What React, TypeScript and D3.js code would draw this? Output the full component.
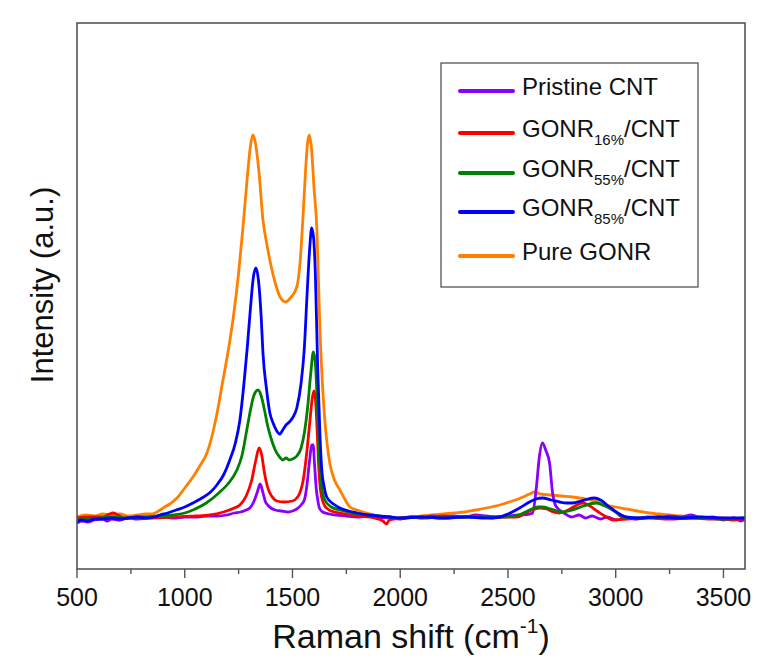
import React from "react";
import * as d3 from "d3";

type Pt = [number, number];

const pristineCNT: Pt[] = [
  [500, -5], [520, -3], [550, -4], [580, -2], [620, -1], [640, -3], [660, -1], [700, -2], [740, 0], [780, -1], [830, 0], [900, 1], [950, 0], [1000, 1], [1050, 1], [1100, 2], [1150, 2], [1195, 3], [1230, 5], [1260, 6], [1285, 8], [1302, 10], [1320, 16], [1337, 26], [1350, 34], [1362, 26], [1375, 16], [1385, 13], [1400, 10], [1420, 8], [1450, 7], [1480, 6], [1500, 7], [1520, 9], [1540, 13], [1555, 18], [1566, 31], [1578, 55], [1590, 73], [1596, 73], [1602, 55], [1610, 30], [1618, 17], [1625, 10], [1640, 6], [1670, 4], [1700, 3], [1750, 2], [1800, 1], [1850, 2], [1900, 0], [1950, 1], [2000, -1], [2050, 1], [2100, 0], [2150, 2], [2200, 1], [2250, 2], [2300, 1], [2350, 3], [2400, 2], [2450, 1], [2500, 2], [2550, 3], [2600, 4], [2614, 5], [2632, 31], [2645, 60], [2660, 75], [2675, 68], [2693, 55], [2707, 25], [2718, 14], [2730, 10], [2760, 5], [2795, 1], [2830, 3], [2860, 0], [2890, 2], [2930, -1], [2960, 1], [3003, -2], [3050, 0], [3100, -1], [3150, 1], [3200, 0], [3250, 2], [3300, 1], [3350, 3], [3400, 0], [3450, 1], [3500, -2], [3550, 0], [3580, -3], [3600, -1],
];

const gonr16: Pt[] = [
  [500, 0], [560, 1], [620, 1], [650, 4], [667, 5], [690, 3], [720, 0], [780, 1], [850, 0], [950, 1], [1050, 2], [1117, 3], [1180, 6], [1230, 10], [1256, 13], [1285, 22], [1311, 38], [1330, 58], [1345, 70], [1358, 62], [1370, 45], [1383, 32], [1395, 25], [1410, 20], [1427, 17], [1460, 16], [1500, 17], [1520, 20], [1534, 25], [1550, 38], [1566, 65], [1580, 95], [1592, 120], [1600, 127], [1608, 115], [1615, 85], [1622, 50], [1630, 28], [1640, 17], [1650, 12], [1680, 7], [1720, 5], [1800, 2], [1880, 0], [1920, -3], [1935, -6], [1950, -2], [2000, 0], [2060, 1], [2120, 0], [2200, 2], [2280, 1], [2350, 2], [2420, 0], [2480, 1], [2539, 1], [2600, 7], [2646, 10], [2680, 9], [2710, 6], [2739, 5], [2780, 8], [2820, 13], [2846, 15], [2880, 12], [2920, 6], [2957, 1], [2985, -2], [3050, -1], [3150, 0], [3250, -1], [3350, 0], [3450, -1], [3500, -1], [3550, -2], [3600, 0],
];

const gonr55: Pt[] = [
  [500, -2], [540, -1], [600, 0], [660, 1], [720, 0], [800, 1], [880, 2], [950, 3], [1000, 5], [1038, 8], [1100, 15], [1163, 26], [1200, 34], [1242, 48], [1265, 62], [1288, 88], [1305, 108], [1320, 122], [1340, 128], [1355, 122], [1370, 108], [1385, 92], [1400, 80], [1420, 68], [1440, 61], [1455, 58], [1470, 60], [1485, 58], [1500, 59], [1520, 62], [1540, 70], [1555, 85], [1570, 110], [1585, 145], [1597, 166], [1606, 155], [1615, 115], [1625, 60], [1636, 30], [1650, 18], [1680, 11], [1720, 8], [1780, 5], [1850, 3], [1950, 1], [2000, 0], [2100, 1], [2200, 0], [2300, 1], [2400, 1], [2480, 1], [2550, 3], [2600, 8], [2640, 11], [2660, 11], [2700, 9], [2753, 6], [2800, 8], [2850, 12], [2910, 15], [2950, 12], [3000, 6], [3031, 1], [3100, 0], [3200, 1], [3300, 0], [3400, 0], [3500, -1], [3600, 0],
];

const gonr85: Pt[] = [
  [500, -4], [520, -2], [550, -3], [580, -1], [620, -1], [660, 0], [700, -1], [740, 0], [780, 1], [820, 0], [860, 1], [885, 3], [920, 5], [960, 8], [1000, 11], [1038, 15], [1080, 20], [1120, 26], [1149, 33], [1180, 43], [1209, 58], [1235, 75], [1256, 98], [1275, 135], [1290, 170], [1305, 210], [1318, 240], [1330, 250], [1342, 238], [1355, 200], [1363, 165], [1380, 128], [1395, 105], [1410, 95], [1427, 87], [1441, 84], [1455, 88], [1470, 93], [1485, 96], [1500, 100], [1520, 110], [1540, 135], [1555, 170], [1568, 225], [1580, 270], [1589, 290], [1598, 280], [1606, 245], [1617, 150], [1628, 80], [1636, 48], [1648, 30], [1659, 21], [1690, 14], [1720, 10], [1760, 7], [1800, 5], [1850, 3], [1900, 2], [1950, 1], [2000, 0], [2100, 1], [2200, 0], [2300, 1], [2400, 0], [2461, 1], [2500, 4], [2554, 10], [2600, 16], [2630, 19], [2660, 20], [2700, 18], [2740, 16], [2771, 15], [2800, 15], [2840, 17], [2870, 19], [2901, 20], [2930, 18], [2971, 11], [3010, 5], [3050, 1], [3100, 0], [3200, 1], [3300, 0], [3400, 1], [3500, 0], [3600, 0],
];

const pureGONR: Pt[] = [
  [500, 1], [540, 3], [580, 2], [620, 4], [660, 3], [700, 4], [740, 2], [780, 3], [820, 4], [850, 4], [871, 6], [900, 10], [930, 14], [964, 20], [1000, 30], [1038, 41], [1070, 52], [1103, 65], [1130, 85], [1150, 105], [1175, 135], [1200, 165], [1225, 200], [1250, 245], [1270, 290], [1290, 340], [1305, 372], [1316, 383], [1328, 375], [1345, 345], [1363, 298], [1380, 275], [1395, 258], [1420, 235], [1445, 220], [1469, 216], [1490, 220], [1520, 231], [1535, 255], [1548, 298], [1560, 345], [1570, 375], [1578, 383], [1588, 370], [1600, 330], [1613, 290], [1627, 191], [1640, 130], [1650, 98], [1673, 55], [1695, 38], [1720, 28], [1745, 18], [1766, 11], [1800, 8], [1844, 5], [1880, 3], [1940, 0], [2000, -1], [2050, 1], [2100, 2], [2150, 3], [2200, 4], [2250, 5], [2300, 6], [2350, 8], [2400, 10], [2461, 13], [2520, 17], [2570, 21], [2600, 24], [2623, 26], [2650, 24], [2700, 23], [2750, 22], [2800, 21], [2832, 20], [2880, 18], [2920, 16], [2957, 13], [3000, 11], [3050, 9], [3100, 7], [3156, 5], [3200, 4], [3250, 3], [3300, 2], [3388, 1], [3450, 0], [3500, 0], [3550, -1], [3600, 0],
];

const seriesNames = ["Pristine CNT", "GONR16%/CNT", "GONR55%/CNT", "GONR85%/CNT", "Pure GONR"];
const seriesData = [pristineCNT, gonr16, gonr55, gonr85, pureGONR];
const seriesColors = ["#8a00ff", "#ff0000", "#008000", "#0000ff", "#ff8000"];
const drawOrder = [4, 0, 1, 2, 3];

const majorTicks = [500, 1000, 1500, 2000, 2500, 3000, 3500];
const minorTicks = [750, 1250, 1750, 2250, 2750, 3250];

const FONT = "'Liberation Sans', Arial, Helvetica, sans-serif";

export default function App() {
  const W = 760;
  const H = 664;
  const left = 77, right = 745, top = 23, bottom = 569;
  const x = d3.scaleLinear().domain([500, 3600]).range([left, right]);
  const y = d3.scaleLinear().domain([-51, 495]).range([bottom, top]);
  const line = d3
    .line<Pt>()
    .x((d) => x(d[0]))
    .y((d) => y(d[1]))
    .curve(d3.curveMonotoneX);

  const legendX = 441, legendY = 63, legendW = 257, legendH = 224;
  const rowY = [91, 133, 173, 212, 256];

  const renderLabel = (name: string) => {
    const m = name.match(/^GONR(\d+%)\/CNT$/);
    if (m) {
      return (
        <>
          <tspan>GONR</tspan>
          <tspan fontSize={15} dy={8}>{m[1]}</tspan>
          <tspan dy={-8}>/CNT</tspan>
        </>
      );
    }
    return name;
  };

  return (
    <svg width={W} height={H} style={{ position: "absolute", left: 0, top: 0, background: "#fff" }}>
      <rect x={0} y={0} width={W} height={H} fill="#fff" />
      <defs>
        <clipPath id="plotclip">
          <rect x={left} y={top} width={right - left} height={bottom - top} />
        </clipPath>
      </defs>
      <g clipPath="url(#plotclip)">
        {drawOrder.map((i) => (
          <path
            key={i}
            d={line(seriesData[i]) || ""}
            fill="none"
            stroke={seriesColors[i]}
            strokeWidth={2.8}
            strokeLinejoin="round"
          />
        ))}
      </g>
      <rect x={left} y={top} width={right - left} height={bottom - top} fill="none" stroke="#555" strokeWidth={1.6} />
      {majorTicks.map((t) => (
        <g key={"M" + t}>
          <line x1={x(t)} x2={x(t)} y1={bottom} y2={bottom + 9} stroke="#555" strokeWidth={1.4} />
          <text x={x(t)} y={606} textAnchor="middle" fontFamily={FONT} fontSize={25} fill="#111">
            {t}
          </text>
        </g>
      ))}
      {minorTicks.map((t) => (
        <line key={"m" + t} x1={x(t)} x2={x(t)} y1={bottom} y2={bottom + 5} stroke="#555" strokeWidth={1.4} />
      ))}
      <text x={(left + right) / 2} y={648} textAnchor="middle" fontFamily={FONT} fontSize={34} fill="#111">
        Raman shift (cm<tspan fontSize={21} dy={-15}>-1</tspan><tspan dy={15}>)</tspan>
      </text>
      <text
        transform={`translate(53, 285) rotate(-90)`}
        textAnchor="middle"
        fontFamily={FONT}
        fontSize={31}
        fill="#111"
      >
        Intensity (a.u.)
      </text>
      <rect x={legendX} y={legendY} width={legendW} height={legendH} fill="#fff" stroke="#555" strokeWidth={1.3} />
      {seriesNames.map((name, i) => (
        <g key={name}>
          <line x1={460} x2={513} y1={rowY[i]} y2={rowY[i]} stroke={seriesColors[i]} strokeWidth={4} strokeLinecap="round" />
          <text x={522} y={rowY[i] + 4} fontFamily={FONT} fontSize={24} fill="#111">
            {renderLabel(name)}
          </text>
        </g>
      ))}
    </svg>
  );
}
